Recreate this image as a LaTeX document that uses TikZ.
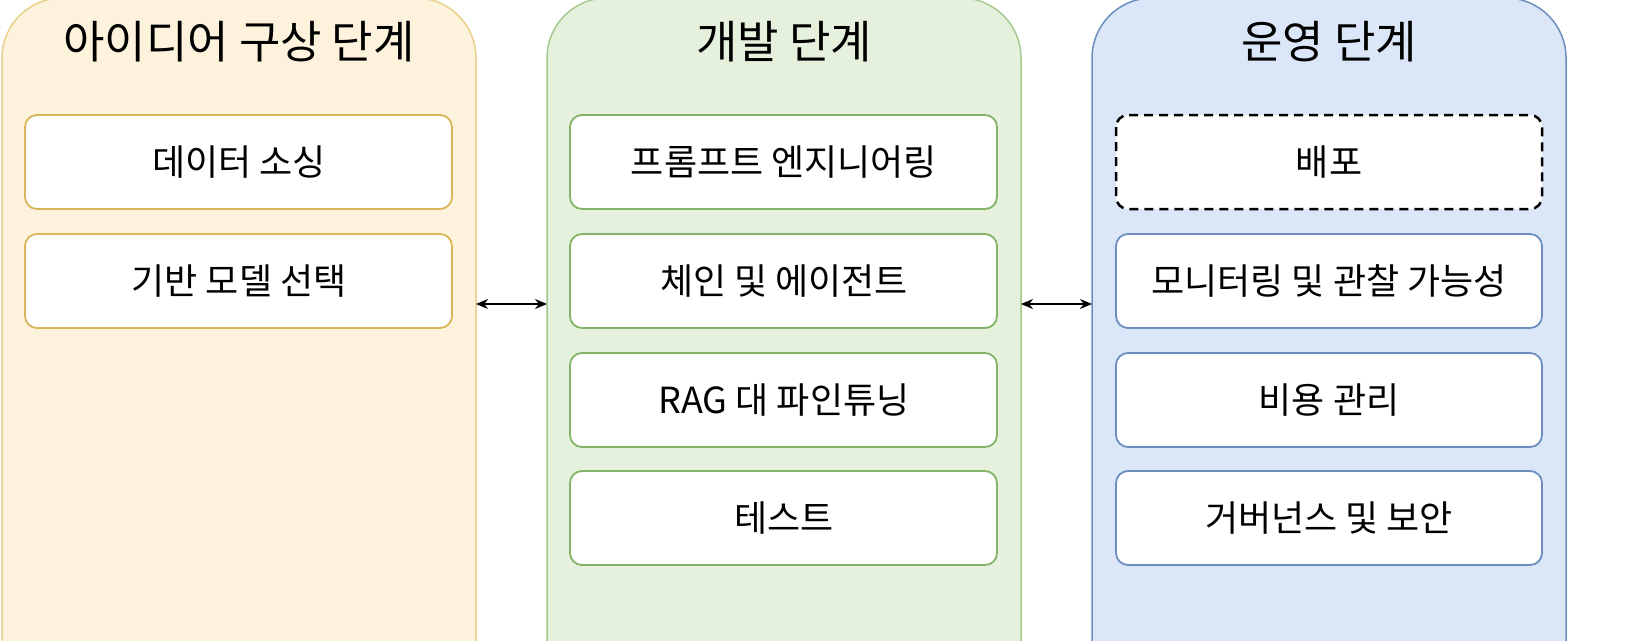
\documentclass[tikz,border=0pt]{standalone}
\usepackage{fontspec}
\usetikzlibrary{arrows.meta}
\setmainfont{Noto Sans CJK KR}
\begin{document}
\begin{tikzpicture}[x=1pt,y=-1pt,
 panel/.style={rounded corners=60pt,line width=1.5pt},
 item/.style={rounded corners=12pt,line width=1.8pt,fill=white},
 ttl/.style={font=\fontsize{45}{50}\selectfont},
 lbl/.style={font=\fontsize{36}{40}\selectfont},
 arr/.style={<->,>={Stealth[length=12pt,width=10pt]},line width=2pt}]
\useasboundingbox (0,0) rectangle (1648,640);
\clip (0,0) rectangle (1648,640);
\definecolor{yf}{HTML}{FDF3DC}\definecolor{yb}{HTML}{E8CF8A}\definecolor{yi}{HTML}{D9B65A}
\definecolor{gf}{HTML}{E6F1DD}\definecolor{gb}{HTML}{A5C98F}\definecolor{gi}{HTML}{82B366}
\definecolor{bf}{HTML}{DBE7F8}\definecolor{bb}{HTML}{6C8EBF}\definecolor{bi}{HTML}{6C8EBF}
\draw[panel,fill=yf,draw=yb] (2,-2) rectangle (476,700);
\draw[panel,fill=gf,draw=gb] (547,-2) rectangle (1021,700);
\draw[panel,fill=bf,draw=bb] (1092,-2) rectangle (1566,700);
\node[ttl] (t1) at (239,42) {아이디어 구상 단계};
\node[ttl] (t2) at (784,42) {개발 단계};
\node[ttl] (t3) at (1329,42) {운영 단계};
\foreach \n/\y/\t in {a1/162/데이터 소싱,a2/281/기반 모델 선택}{
 \draw[item,draw=yi] (25,\y-47) rectangle (452,\y+47);
 \node[lbl] (\n) at (239,\y) {\t};}
\foreach \n/\y/\t in {b1/162/프롬프트 엔지니어링,b2/281/체인 및 에이전트,b3/400/RAG 대 파인튜닝,b4/518/테스트}{
 \draw[item,draw=gi] (570,\y-47) rectangle (997,\y+47);
 \node[lbl] (\n) at (784,\y) {\t};}
\draw[item,draw=black,dashed,dash pattern=on 9pt off 6pt,line width=2.5pt] (1116,115) rectangle (1542,209);
\node[lbl] (c1) at (1329,162) {배포};
\foreach \n/\y/\t in {c2/281/모니터링 및 관찰 가능성,c3/400/비용 관리,c4/518/거버넌스 및 보안}{
 \draw[item,draw=bi] (1116,\y-47) rectangle (1542,\y+47);
 \node[lbl] (\n) at (1329,\y) {\t};}
\coordinate (p1) at (476,304);\coordinate (p2) at (547,304);
\coordinate (p3) at (1021,304);\coordinate (p4) at (1092,304);
\draw[arr] (p1) -- (p2);
\draw[arr] (p3) -- (p4);
\end{tikzpicture}
\end{document}
